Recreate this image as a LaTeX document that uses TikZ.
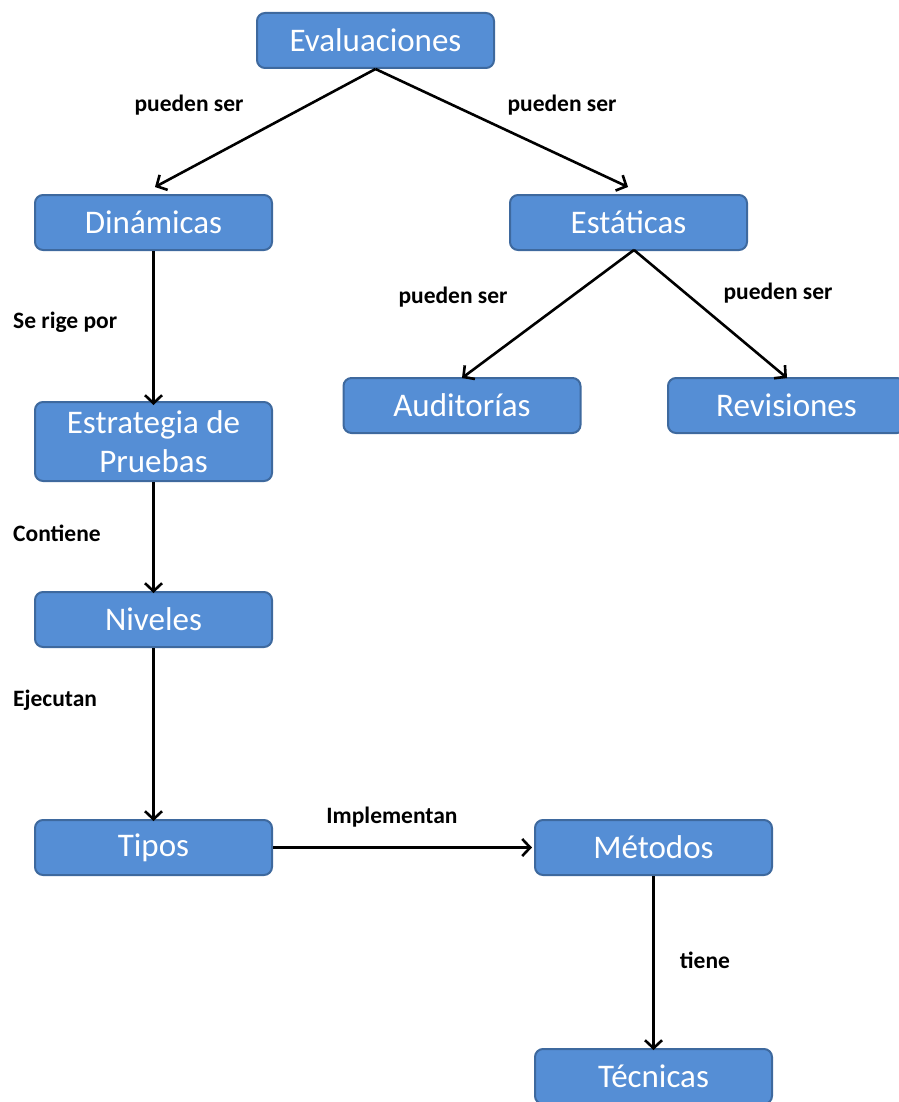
\documentclass[tikz,border=0pt]{standalone}
\usepackage{fontspec}
\setmainfont{Carlito}
\usetikzlibrary{arrows.meta}
\definecolor{boxfill}{RGB}{85,142,213}
\definecolor{boxline}{RGB}{62,105,158}
\tikzset{
  box/.style={draw=boxline, line width=2pt, fill=boxfill, rounded corners=8pt,
    minimum width=237pt, minimum height=55pt, inner sep=0pt, text=white,
    font=\fontsize{33}{39}\selectfont, align=center},
  link/.style={draw=black, line width=2.6pt, -{Straight Barb[length=8pt,width=17pt,line width=2.6pt]}},
  lbl/.style={font=\bfseries\fontsize{23.5}{26}\selectfont, inner sep=0pt},
}
\begin{document}
\begin{tikzpicture}[x=1pt,y=-1pt]
\useasboundingbox (0,0) rectangle (898,1102);
% boxes
\node[box] (eval) at (375.5,40.5) {Evaluaciones};
\node[box] (din) at (153.5,222.5) {Dinámicas};
\node[box] (est) at (628.5,222.5) {Estáticas};
\node[box] (aud) at (462,405.5) {Auditorías};
\node[box] (rev) at (786.5,405.5) {Revisiones};
\node[box, minimum height=79pt] (estr) at (153.5,441.5) {Estrategia de\\Pruebas};
\node[box] (niv) at (153.5,619.5) {Niveles};
\node[box] (tip) at (153.5,847.5) {Tipos};
\node[box] (met) at (653.5,847.5) {Métodos};
\node[box] (tec) at (653.5,1076.5) {Técnicas};
% arrow ends
\coordinate (e1) at (155,187);
\coordinate (e2) at (628,187);
\coordinate (e3) at (462,378);
\coordinate (e4) at (787,378);
\coordinate (es) at (634,250);
% connectors
\draw[link] (eval.south) -- (e1);
\draw[link] (eval.south) -- (e2);
\draw[link] (es) -- (e3);
\draw[link] (es) -- (e4);
\draw[link] (din.south) -- ([yshift=-4pt]estr.north);
\draw[link] (estr.south) -- ([yshift=-2pt]niv.north);
\draw[link] (niv.south) -- ([yshift=-2pt]tip.north);
\draw[link] (tip.east) -- ([xshift=-2pt]met.west);
\draw[link] (met.south) -- ([yshift=-2pt]tec.north);
% labels
\node[lbl] (l1) at (189,105) {pueden ser};
\node[lbl] (l2) at (562,105) {pueden ser};
\node[lbl] (l3) at (453,297) {pueden ser};
\node[lbl] (l4) at (778,293) {pueden ser};
\node[lbl, anchor=west] (l5) at (13,322) {Se rige por};
\node[lbl, anchor=west] (l6) at (13,533) {Contiene};
\node[lbl, anchor=west] (l7) at (13,700) {Ejecutan};
\node[lbl] (l8) at (392,817) {Implementan};
\node[lbl] (l9) at (705,960) {tiene};
\end{tikzpicture}
\end{document}
